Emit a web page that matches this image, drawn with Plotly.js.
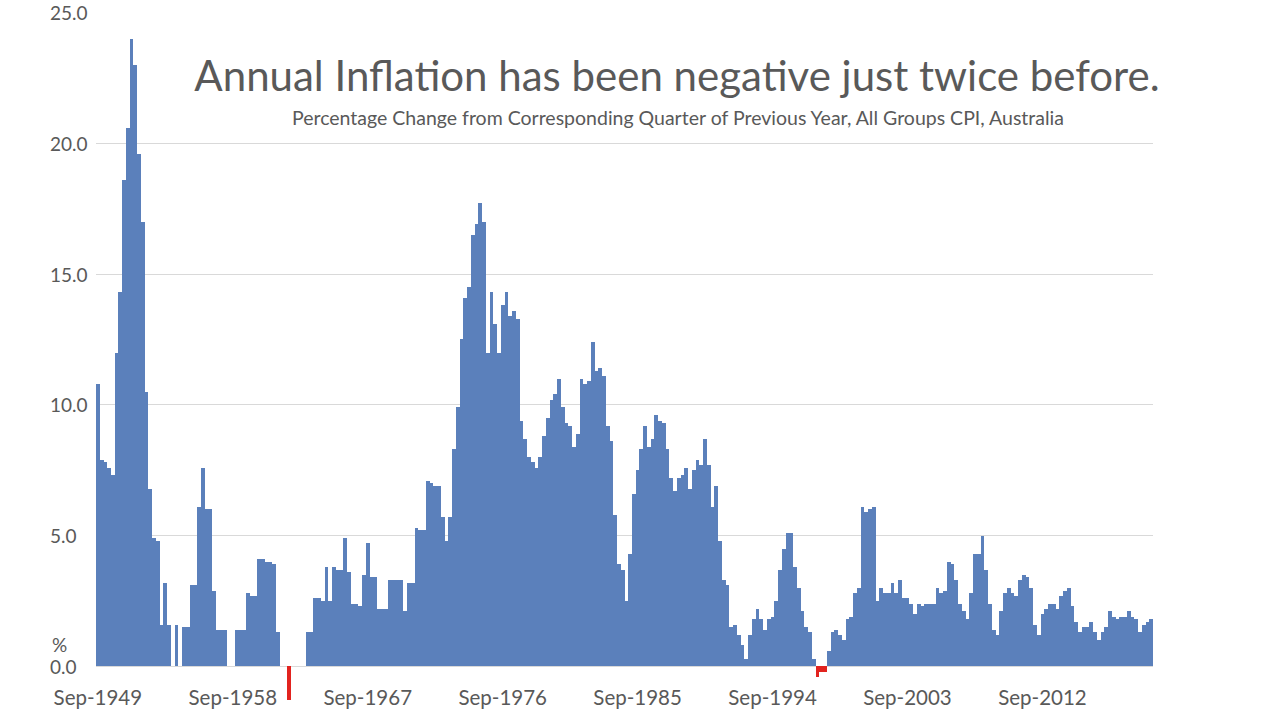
<!DOCTYPE html>
<html>
<head>
<meta charset="utf-8">
<script src="https://cdn.plot.ly/plotly-3.0.1.min.js"></script>
<style>html,body{margin:0;padding:0;background:#fff;}#chart{width:1280px;height:720px;}</style>
</head>
<body>
<div id="chart"></div>
<script>
// Annual % change in CPI, one value per quarter, Sep-1949 .. Dec-2019
const firstQuarter = {month: "Sep", year: 1949};
const inflation = [
  10.8, 7.9, 7.8, 7.6, 7.3, 12.0, 14.3, 18.6, 20.6, 24.0, 23.0, 19.6, 17.0, 10.5, 6.8, 4.9,
  4.8, 1.6, 3.2, 1.6, 0.0, 1.6, 0.0, 1.5, 1.5, 3.1, 3.1, 6.1, 7.6, 6.0, 6.0, 2.9,
  1.4, 1.4, 1.4, 0.0, 0.0, 1.4, 1.4, 1.4, 2.8, 2.7, 2.7, 4.1, 4.1, 4.0, 4.0, 3.9,
  1.3, 0.0, 0.0, -1.3, 0.0, 0.0, 0.0, 0.0, 1.3, 1.3, 2.6, 2.6, 2.5, 3.8, 2.5, 3.8,
  3.7, 3.7, 4.9, 3.6, 2.4, 2.4, 2.3, 3.5, 4.7, 3.4, 3.4, 2.2, 2.2, 2.2, 3.3, 3.3,
  3.3, 3.3, 2.1, 3.2, 3.2, 5.3, 5.2, 5.2, 7.1, 7.0, 6.9, 6.9, 5.7, 4.8, 5.7, 8.3,
  9.9, 12.5, 14.1, 14.5, 16.5, 16.9, 17.7, 17.0, 12.0, 14.3, 13.1, 12.0, 13.8, 14.3, 13.4, 13.6,
  13.3, 9.4, 8.7, 8.0, 7.8, 7.6, 8.0, 8.8, 9.5, 10.2, 10.4, 11.0, 9.9, 9.3, 9.2, 8.4,
  8.9, 11.0, 10.8, 10.9, 12.4, 11.3, 11.4, 11.1, 9.2, 8.6, 5.8, 3.9, 3.7, 2.5, 4.3, 6.6,
  7.5, 8.3, 9.2, 8.4, 8.7, 9.6, 9.4, 9.3, 8.3, 7.2, 6.7, 7.2, 7.3, 7.6, 6.8, 7.5,
  7.9, 7.7, 8.7, 7.7, 6.1, 6.9, 4.8, 3.3, 3.1, 1.5, 1.6, 1.2, 0.8, 0.3, 1.2, 1.8,
  2.2, 1.8, 1.4, 1.8, 1.9, 2.5, 3.7, 4.5, 5.1, 5.1, 3.8, 3.0, 2.1, 1.5, 1.3, 0.3,
  -0.4, -0.2, -0.2, 0.6, 1.3, 1.4, 1.2, 1.0, 1.8, 1.9, 2.8, 3.0, 6.1, 5.9, 6.0, 6.1,
  2.5, 3.0, 2.8, 2.8, 3.2, 2.8, 3.3, 2.6, 2.6, 2.4, 2.0, 2.4, 2.3, 2.4, 2.4, 2.4,
  3.0, 2.8, 2.9, 4.0, 3.9, 3.3, 2.4, 2.1, 1.8, 2.8, 4.3, 4.3, 5.0, 3.7, 2.4, 1.4,
  1.2, 2.1, 2.8, 3.0, 2.8, 2.7, 3.3, 3.5, 3.4, 3.0, 1.6, 1.2, 2.0, 2.2, 2.4, 2.4,
  2.2, 2.7, 2.9, 3.0, 2.3, 1.7, 1.3, 1.5, 1.5, 1.7, 1.3, 1.0, 1.3, 1.5, 2.1, 1.9,
  1.8, 1.9, 1.9, 2.1, 1.9, 1.8, 1.3, 1.6, 1.7, 1.8
];
const tickLabels = ["Sep-1949", "Sep-1958", "Sep-1967", "Sep-1976", "Sep-1985", "Sep-1994", "Sep-2003", "Sep-2012"];
const yTicks = [0, 5, 10, 15, 20, 25];
const yTickText = ["0.0", "5.0", "10.0", "15.0", "20.0", "25.0"];
const titleText = "Annual Inflation has been negative just twice before.";
const subtitleText = "Percentage Change from Corresponding Quarter of Previous Year, All Groups CPI, Australia";
const unitLabel = "%";

// quarter labels
const monthNames = ["Mar", "Jun", "Sep", "Dec"];
const quarters = [];
{
  let m = monthNames.indexOf(firstQuarter.month), y = firstQuarter.year;
  for (let k = 0; k < inflation.length; k++) {
    quarters.push(monthNames[m] + "-" + y);
    m++; if (m > 3) { m = 0; y++; }
  }
}

const BLUE = "#5B80BB", RED = "#E2231F", TXT = "#595959";
const FONT = "Lato, 'Open Sans', sans-serif";
const yMin = -1.4, yMax = 25.02;
const L = 96, PW = 1057;

const trace = {
  type: "bar",
  x: quarters,
  y: inflation,
  marker: {color: inflation.map(v => v < 0 ? RED : BLUE), line: {width: 0}},
  hoverinfo: "x+y"
};

// y-axis labels: left-aligned text placed on the y scale
const yLabelAnnots = yTicks.map((v, k) => ({
  text: yTickText[k], xref: "paper", yref: "y",
  x: (48 - L) / PW, y: v, xanchor: "left", yanchor: "middle",
  showarrow: false, font: {family: FONT, size: 19, color: TXT}
}));

const layout = {
  width: 1280, height: 720,
  margin: {l: L, r: 1280 - L - PW, t: 12, b: 17, pad: 0},
  paper_bgcolor: "#fff", plot_bgcolor: "#fff",
  bargap: 0,
  showlegend: false,
  font: {family: FONT, color: TXT},
  title: {
    text: titleText,
    x: 677 / 1280, xanchor: "center", xref: "container",
    y: 1 - 76 / 720, yanchor: "middle", yref: "container",
    font: {family: FONT, size: 42, color: TXT}
  },
  xaxis: {
    type: "category",
    range: [-0.5, inflation.length - 0.5],
    tickvals: tickLabels, ticktext: tickLabels,
    showgrid: false, zeroline: false, showline: false,
    ticks: "", ticklabelstandoff: 17,
    anchor: "free", position: (0 - yMin) / (yMax - yMin),
    tickfont: {family: FONT, size: 20.5, color: TXT}
  },
  yaxis: {
    range: [yMin, yMax],
    tickvals: yTicks,
    showticklabels: false,
    showgrid: true, gridcolor: "#D9D9D9", gridwidth: 1,
    zeroline: true, zerolinecolor: "#D9D9D9", zerolinewidth: 1,
    showline: false, ticks: ""
  },
  annotations: yLabelAnnots.concat([
    {
      text: subtitleText, xref: "paper", yref: "paper",
      x: (677.5 - L) / PW, y: (703 - 117) / 691, xanchor: "center", yanchor: "middle",
      showarrow: false, font: {family: FONT, size: 19.5, color: TXT}
    },
    {
      text: unitLabel, xref: "paper", yref: "y",
      x: (50 - L) / PW, y: 0, yshift: 22, xanchor: "left", yanchor: "middle",
      showarrow: false, font: {family: FONT, size: 19, color: TXT}
    }
  ])
};

Plotly.newPlot("chart", [trace], layout, {displayModeBar: false, staticPlot: true});
</script>
</body>
</html>
